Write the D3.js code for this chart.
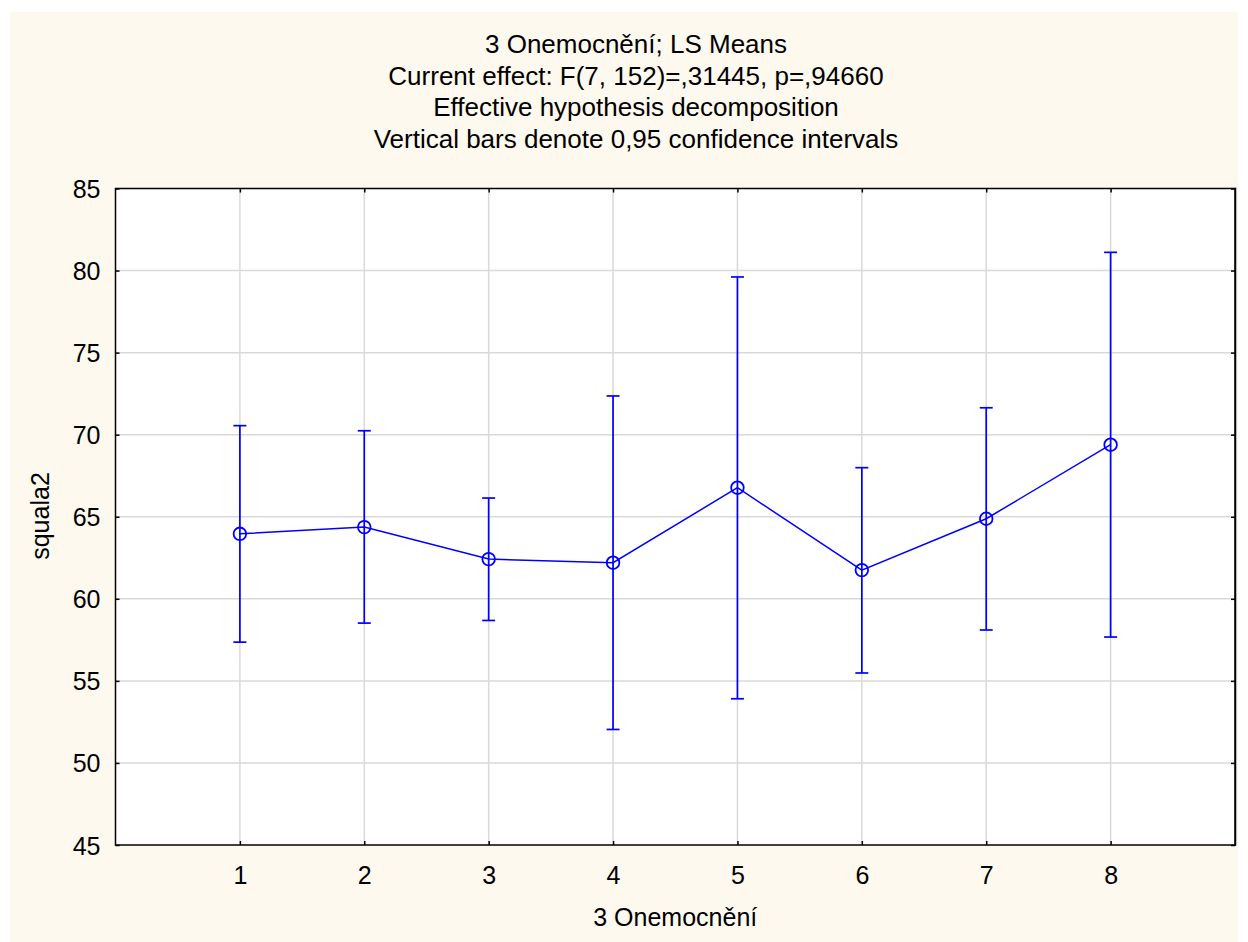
<!DOCTYPE html>
<html><head><meta charset="utf-8">
<script src="https://cdn.jsdelivr.net/npm/d3@7"></script>
<style>
html,body{margin:0;padding:0;background:#ffffff;}
svg text{font-family:"Liberation Sans",Arial,sans-serif;fill:#000;}
</style></head>
<body>
<svg id="chart" width="1248" height="942"></svg>
<script>
const categories = [1, 2, 3, 4, 5, 6, 7, 8];
const means  = [63.96, 64.37, 62.42, 62.20, 66.77, 61.75, 64.88, 69.39];
const upper  = [70.55, 70.24, 66.14, 72.36, 79.61, 67.99, 71.64, 81.11];
const lower  = [57.36, 58.52, 58.68, 52.04, 53.91, 55.48, 58.10, 57.67];
const yTicks = [45, 50, 55, 60, 65, 70, 75, 80, 85];
const titleLines = [
  "3 Onemocnění; LS Means",
  "Current effect: F(7, 152)=,31445, p=,94660",
  "Effective hypothesis decomposition",
  "Vertical bars denote 0,95 confidence intervals"
];
const xLabel = "3 Onemocnění";
const yLabel = "squala2";

const svg = d3.select("#chart");
const L = 115.5, R = 1235, T = 188.5, B = 845;
const x = d3.scaleLinear().domain([0, 9]).range([L, R]);
const y = d3.scaleLinear().domain([45, 85]).range([B, T]);

// cream background
svg.append("rect").attr("x", 10).attr("y", 12).attr("width", 1228).attr("height", 930).attr("fill", "#fdf9ef");
// plot area
svg.append("rect").attr("x", L).attr("y", T).attr("width", R - L).attr("height", B - T).attr("fill", "#ffffff");

// grid
const grid = svg.append("g").attr("stroke", "#d9d9d9").attr("stroke-width", 1.5);
grid.selectAll("line.h").data(yTicks.slice(1, -1)).join("line")
  .attr("x1", L).attr("x2", R).attr("y1", d => y(d)).attr("y2", d => y(d));
grid.selectAll("line.v").data(categories).join("line")
  .attr("y1", T).attr("y2", B).attr("x1", d => x(d)).attr("x2", d => x(d));

// axes with inner ticks
const axL = svg.append("g").attr("transform", `translate(${L},0)`)
  .call(d3.axisLeft(y).tickValues(yTicks).tickSizeInner(-4).tickSizeOuter(0).tickPadding(15));
const axR = svg.append("g").attr("transform", `translate(${R},0)`)
  .call(d3.axisRight(y).tickValues(yTicks).tickSizeInner(-4).tickSizeOuter(0).tickFormat(""));
const axB = svg.append("g").attr("transform", `translate(0,${B})`)
  .call(d3.axisBottom(x).tickValues(categories).tickSizeInner(-4).tickSizeOuter(0).tickPadding(21));
const axT = svg.append("g").attr("transform", `translate(0,${T})`)
  .call(d3.axisTop(x).tickValues(categories).tickSizeInner(-4).tickSizeOuter(0).tickFormat(""));
[axL, axR, axB, axT].forEach(a => {
  a.select(".domain").remove();
  a.selectAll(".tick line").attr("stroke", "#000").attr("stroke-width", 1.5);
  a.selectAll("text").style("font-size", "25px").attr("font-family", "Liberation Sans, Arial, sans-serif");
});
axL.selectAll("text").attr("dy", "0.36em");

// frame
svg.append("rect").attr("x", L).attr("y", T).attr("width", R - L).attr("height", B - T)
  .attr("fill", "none").attr("stroke", "#000").attr("stroke-width", 1.5);
svg.append("line").attr("x1", R + 0.5).attr("x2", R + 0.5).attr("y1", T - 0.75).attr("y2", B + 0.75)
  .attr("stroke", "#000").attr("stroke-width", 1.5);

// error bars
const blue = "#0000ff";
const eb = svg.append("g").attr("stroke", blue).attr("stroke-width", 1.7).attr("fill", "none");
categories.forEach((c, i) => {
  eb.append("line").attr("x1", x(c)).attr("x2", x(c)).attr("y1", y(lower[i])).attr("y2", y(upper[i]));
  eb.append("line").attr("x1", x(c) - 6.5).attr("x2", x(c) + 6.5).attr("y1", y(upper[i])).attr("y2", y(upper[i]));
  eb.append("line").attr("x1", x(c) - 6.5).attr("x2", x(c) + 6.5).attr("y1", y(lower[i])).attr("y2", y(lower[i]));
});

// mean line
svg.append("path").datum(categories.map((c, i) => [c, means[i]]))
  .attr("fill", "none").attr("stroke", blue).attr("stroke-width", 1.5)
  .attr("d", d3.line().x(d => x(d[0])).y(d => y(d[1])));

// markers
svg.append("g").selectAll("circle").data(categories).join("circle")
  .attr("cx", d => x(d)).attr("cy", (d, i) => y(means[i])).attr("r", 6.3)
  .attr("fill", "none").attr("stroke", blue).attr("stroke-width", 1.8);

// titles
svg.append("g").selectAll("text").data(titleLines).join("text")
  .attr("x", 636).attr("y", (d, i) => 53 + i * 31.5).attr("text-anchor", "middle")
  .style("font-size", "26px").text(d => d);

svg.append("text").attr("x", x(4.5)).attr("y", 926).attr("text-anchor", "middle")
  .style("font-size", "25px").text(xLabel);
svg.append("text").attr("transform", "translate(49,516) rotate(-90)").attr("text-anchor", "middle")
  .style("font-size", "25px").text(yLabel);
</script>
</body></html>
